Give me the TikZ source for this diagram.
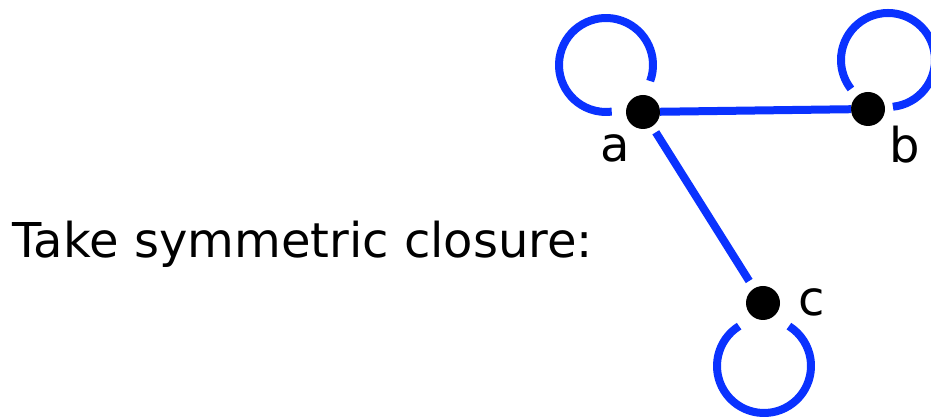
\documentclass[tikz,border=0pt]{standalone}
\usepackage{fontspec}
\setmainfont{DejaVu Sans}
\usetikzlibrary{positioning}
\definecolor{edgeblue}{HTML}{0A32FF}

\begin{document}
\begin{tikzpicture}[x=1pt, y=1pt,
  dot/.style={circle, fill=black, inner sep=0pt, outer sep=0pt, minimum size=34pt},
  lbl/.style={anchor=base, font=\fontsize{48}{48}\selectfont},
  edge/.style={edgeblue, line width=8pt}]
  \useasboundingbox (0,0) rectangle (931,419);
  \node[anchor=base west, font=\fontsize{48}{48}\selectfont] (title) at (9,161) {Take symmetric closure:};
  \node[dot] (a) at (643,307) {};
  \node[dot] (b) at (868,310) {};
  \node[dot] (c) at (763,116) {};
  \node[lbl] (la) at (615,257) {a};
  \node[lbl] (lb) at (905,256) {b};
  \node[lbl] (lc) at (812,103) {c};
  \draw[edge] (a) -- (b);
  \draw[edge, shorten <=7pt, shorten >=9pt] (a) -- (c);
  % self loops
  \draw[edge] ([shift={(-37,47)}]a.center) ++(-20:47) arc[start angle=-20, end angle=277, radius=47];
  \draw[edge] ([shift={(20,49)}]b.center) ++(-84:47) arc[start angle=-84, end angle=218, radius=47];
  \draw[edge] ([shift={(1,-63)}]c.center) ++(122:47) arc[start angle=122, end angle=418, radius=47];
\end{tikzpicture}
\end{document}
